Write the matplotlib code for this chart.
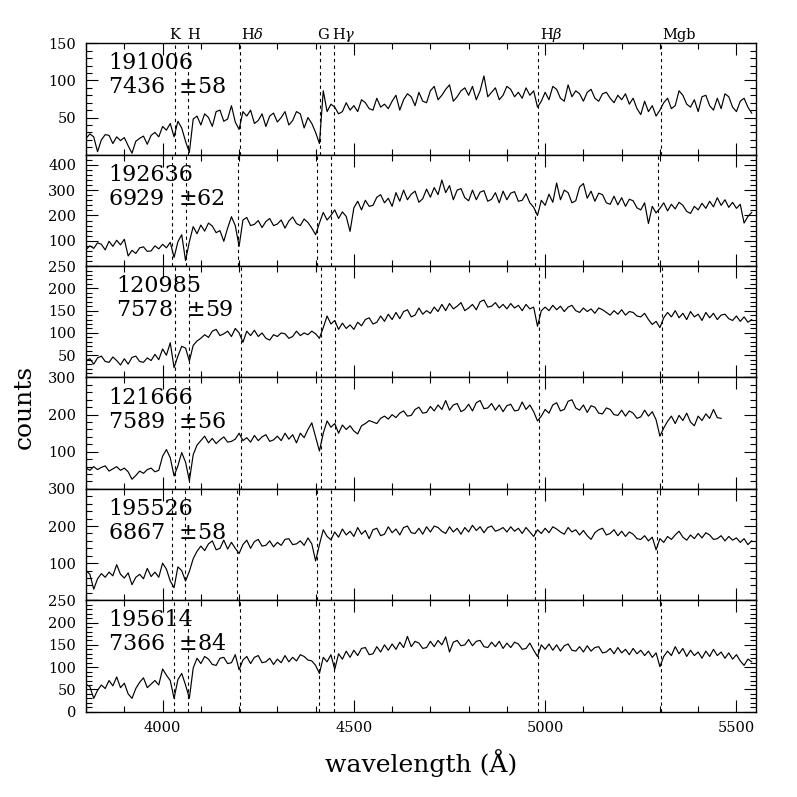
import numpy as np
import matplotlib
matplotlib.use("Agg")
from matplotlib import pyplot as plt
from matplotlib.ticker import MultipleLocator, FuncFormatter

plt.rcParams['font.family'] = ['DejaVu Serif']
plt.rcParams['mathtext.fontset'] = 'dejavuserif'

wave = np.arange(3800, 5541, 10)

# galaxy names and measured velocities (km/s)
names = ["191006", "192636", "120985", "121666", "195526", "195614"]
velocity = [7436, 6929, 7578, 7589, 6867, 7366]
vel_err = [58, 62, 59, 56, 58, 84]

# rest wavelengths of the marked features
line_names = ["K", "H", r"H$\delta$", "G", r"H$\gamma$", r"H$\beta$", "Mgb"]
line_rest = [3933.66, 3968.47, 4101.74, 4304.4, 4340.47, 4861.33, 5175.0]
line_label_x = [4031, 4081, 4235, 4419, 4474, 5015, 5350]

# y ranges of each panel
ymax = [150, 440, 250, 300, 300, 250]
ymajor = [50, 100, 50, 100, 100, 50]
yminor = [10, 20, 10, 20, 20, 10]

counts_191006 = [
    22, 28, 24, 4, 20, 27, 26, 15, 24, 19,
    23, 12, 2, 18, 22, 25, 14, 26, 30, 24,
    38, 33, 42, 24, 45, 36, 18, 3, 48, 52,
    40, 55, 50, 38, 58, 60, 45, 48, 66, 44,
    34, 58, 52, 60, 42, 46, 55, 38, 52, 56,
    44, 50, 58, 40, 46, 58, 55, 36, 50, 42,
    30, 15, 86, 58, 68, 64, 55, 58, 70, 60,
    66, 58, 74, 70, 62, 60, 76, 64, 68, 62,
    72, 80, 60, 74, 82, 78, 66, 84, 72, 70,
    86, 92, 74, 80, 88, 94, 72, 78, 86, 90,
    80, 92, 74, 86, 106, 78, 84, 90, 74, 80,
    92, 88, 78, 84, 76, 90, 80, 86, 64, 72,
    84, 74, 92, 88, 76, 72, 94, 78, 86, 82,
    72, 84, 88, 76, 72, 82, 84, 76, 70, 80,
    74, 82, 68, 76, 62, 54, 72, 58, 66, 52,
    60, 70, 76, 62, 66, 86, 80, 68, 64, 74,
    58, 78, 80, 66, 60, 76, 62, 82, 78, 64,
    58, 72, 76, 64, 56]

counts_192636 = [
    66, 80, 70, 92, 86, 64, 98, 78, 102, 84,
    106, 40, 62, 50, 72, 76, 58, 60, 80, 68,
    86, 72, 94, 34, 96, 124, 22, 96, 156, 128,
    162, 138, 170, 158, 132, 140, 98, 150, 195, 160,
    78, 182, 192, 160, 165, 180, 152, 176, 188, 160,
    166, 182, 150, 178, 194, 168, 160, 186, 172, 150,
    124, 170, 212, 182, 200, 222, 188, 214, 196, 137,
    230, 256, 222, 260, 236, 240, 272, 282, 250, 268,
    236, 290, 256, 300, 262, 284, 296, 252, 266, 304,
    272, 310, 282, 340, 290, 318, 262, 300, 306, 270,
    258, 300, 262, 292, 298, 256, 264, 290, 250, 296,
    262, 288, 294, 256, 260, 286, 250, 232, 200, 260,
    240, 284, 252, 328, 262, 300, 290, 250, 258, 312,
    326, 268, 296, 256, 288, 282, 250, 244, 276, 242,
    270, 236, 264, 258, 230, 222, 250, 168, 236, 210,
    228, 250, 218, 244, 226, 252, 240, 216, 208, 236,
    222, 248, 228, 256, 234, 270, 240, 262, 232, 252,
    228, 244, 170, 196, 212]

counts_120985 = [
    38, 42, 30, 44, 48, 36, 34, 46, 38, 28,
    42, 30, 45, 48, 36, 34, 44, 38, 52, 40,
    64, 50, 78, 22, 48, 70, 66, 37, 72, 82,
    88, 96, 90, 104, 108, 94, 98, 104, 92, 110,
    100, 79, 104, 94, 106, 92, 100, 88, 84, 96,
    92, 100, 98, 88, 92, 104, 94, 100, 96, 104,
    98, 88, 112, 138, 120, 128, 108, 122, 110, 118,
    108, 124, 116, 130, 134, 120, 124, 138, 126, 142,
    130, 146, 132, 148, 152, 136, 140, 156, 142, 150,
    144, 158, 148, 164, 150, 166, 154, 160, 168, 150,
    156, 164, 152, 170, 174, 158, 160, 168, 156, 164,
    154, 166, 156, 162, 150, 164, 154, 158, 115, 150,
    158, 150, 162, 152, 160, 148, 158, 162, 150, 146,
    156, 148, 154, 144, 156, 152, 146, 140, 150, 142,
    152, 140, 148, 146, 138, 136, 144, 130, 119, 126,
    112, 134, 146, 136, 150, 134, 144, 130, 148, 136,
    142, 128, 146, 134, 144, 130, 140, 142, 132, 128,
    138, 126, 136, 124, 130]

counts_121666 = [
    56, 50, 60, 52, 58, 62, 48, 54, 60, 50,
    56, 46, 26, 36, 48, 42, 52, 56, 46, 50,
    88, 106, 84, 35, 62, 98, 72, 22, 92, 118,
    130, 142, 124, 136, 122, 132, 140, 126, 128, 134,
    150, 130, 138, 126, 144, 130, 140, 146, 128, 132,
    142, 130, 150, 134, 146, 124, 150, 138, 160, 178,
    140, 102, 150, 183, 166, 176, 150, 172, 160, 170,
    156, 148, 170, 176, 184, 180, 176, 190, 196, 188,
    200, 192, 204, 210, 196, 198, 214, 220, 204, 206,
    222, 210, 226, 214, 238, 212, 226, 230, 208, 214,
    228, 210, 232, 238, 216, 218, 230, 212, 226, 208,
    224, 228, 210, 212, 234, 214, 226, 208, 183, 196,
    214, 204, 226, 232, 210, 214, 236, 240, 218, 212,
    226, 206, 224, 220, 204, 202, 218, 214, 200, 198,
    212, 196, 210, 204, 190, 194, 212, 196, 208, 186,
    142, 164, 182, 196, 176, 198, 184, 204, 180, 170,
    196, 184, 202, 190, 214, 192, 190]

counts_195526 = [
    80, 70, 30, 58, 72, 62, 76, 66, 96, 70,
    60, 74, 42, 62, 70, 58, 86, 64, 76, 62,
    100, 84, 52, 34, 90, 80, 52, 78, 112, 132,
    146, 134, 152, 160, 136, 140, 162, 138, 156, 140,
    126, 150, 162, 140, 158, 164, 146, 148, 160, 144,
    156, 148, 164, 166, 150, 152, 160, 148, 168, 152,
    106, 150, 190, 172, 163, 184, 170, 192, 176, 186,
    172, 196, 178, 188, 166, 190, 194, 174, 178, 198,
    182, 192, 176, 196, 200, 182, 180, 194, 178, 198,
    184, 200, 196, 186, 180, 198, 184, 194, 178, 196,
    184, 202, 188, 198, 182, 196, 200, 186, 190, 196,
    184, 198, 186, 194, 180, 196, 184, 172, 190, 180,
    194, 182, 198, 192, 184, 178, 196, 184, 190, 176,
    188, 174, 164, 182, 190, 194, 176, 180, 190, 174,
    186, 172, 184, 178, 166, 164, 174, 160, 170, 136,
    166, 156, 172, 164, 176, 186, 170, 162, 176, 166,
    180, 168, 182, 176, 164, 166, 174, 160, 172, 162,
    168, 156, 166, 150, 160]

counts_195614 = [
    62, 56, 30, 48, 60, 52, 70, 58, 78, 54,
    64, 40, 30, 52, 66, 76, 54, 62, 70, 60,
    96, 82, 70, 30, 72, 86, 60, 30, 98, 120,
    108, 124, 118, 106, 104, 120, 122, 108, 110, 128,
    94, 116, 124, 108, 122, 126, 110, 112, 120, 106,
    118, 110, 126, 112, 122, 114, 128, 124, 116, 114,
    104, 86, 122, 112, 128, 95, 130, 118, 136, 122,
    138, 126, 142, 144, 128, 130, 146, 134, 150, 138,
    152, 140, 156, 144, 169, 146, 158, 154, 142, 144,
    158, 146, 160, 150, 168, 134, 156, 160, 148, 150,
    162, 148, 158, 160, 146, 144, 156, 146, 158, 142,
    154, 144, 156, 152, 140, 142, 154, 138, 124, 150,
    140, 152, 138, 150, 136, 148, 152, 138, 136, 146,
    134, 148, 136, 144, 146, 132, 134, 142, 130, 144,
    132, 140, 128, 142, 130, 138, 126, 136, 122, 132,
    101, 124, 136, 126, 146, 130, 142, 124, 138, 126,
    134, 120, 136, 124, 140, 126, 134, 120, 132, 118,
    128, 114, 104, 118, 112]

spectra = [counts_191006, counts_192636, counts_120985,
           counts_121666, counts_195526, counts_195614]

# label placement inside each panel (axes fraction)
name_x = [0.033, 0.033, 0.045, 0.033, 0.033, 0.033]

C_KMS = 299792.458


def no_zero(val, pos):
    # the 0 of a panel sits under the top label of the panel below
    if abs(val) < 1e-6:
        return ""
    return "%d" % val


fig, axes = plt.subplots(6, 1, sharex=True, figsize=(7.97, 7.97), dpi=100)
fig.subplots_adjust(left=0.108, right=0.948, top=0.9457, bottom=0.107, hspace=0)

for i, ax in enumerate(axes):
    flux = spectra[i]
    ax.plot(wave[:len(flux)], flux, color='k', lw=0.85)

    # redshifted absorption features
    z = 1.0 + velocity[i] / C_KMS
    for lam in line_rest:
        ax.axvline(lam * z, color='k', lw=0.8, ls=(0, (3, 3)))

    ax.set_xlim(3800, 5550)
    ax.set_ylim(0, ymax[i])
    ax.xaxis.set_major_locator(MultipleLocator(500))
    ax.xaxis.set_minor_locator(MultipleLocator(100))
    ax.yaxis.set_major_locator(MultipleLocator(ymajor[i]))
    ax.yaxis.set_minor_locator(MultipleLocator(yminor[i]))
    if i < len(axes) - 1:
        ax.yaxis.set_major_formatter(FuncFormatter(no_zero))
    ax.tick_params(which='both', direction='in', top=True, right=True,
                   labelsize=10.5, pad=7, width=0.8)
    ax.tick_params(which='major', length=8.5)
    ax.tick_params(which='minor', length=4.3)
    for sp in ax.spines.values():
        sp.set_linewidth(1.0)

    ax.text(name_x[i], 0.82, names[i], transform=ax.transAxes,
            fontsize=16, ha='left', va='center')
    ax.text(name_x[i], 0.605, "%d  $\\pm$%d" % (velocity[i], vel_err[i]),
            transform=ax.transAxes, fontsize=16, ha='left', va='center')

# feature names above the top panel
top = axes[0]
for lab, lx in zip(line_names, line_label_x):
    top.text(lx, 1.075, lab, transform=top.get_xaxis_transform(),
             fontsize=10.5, ha='center', va='center')

fig.text(0.528, 0.0427, "wavelength (Å)", fontsize=18, ha='center', va='center')
fig.text(0.031, 0.489, "counts", fontsize=18, rotation=90, ha='center', va='center')

plt.savefig("out.png", dpi=100)
